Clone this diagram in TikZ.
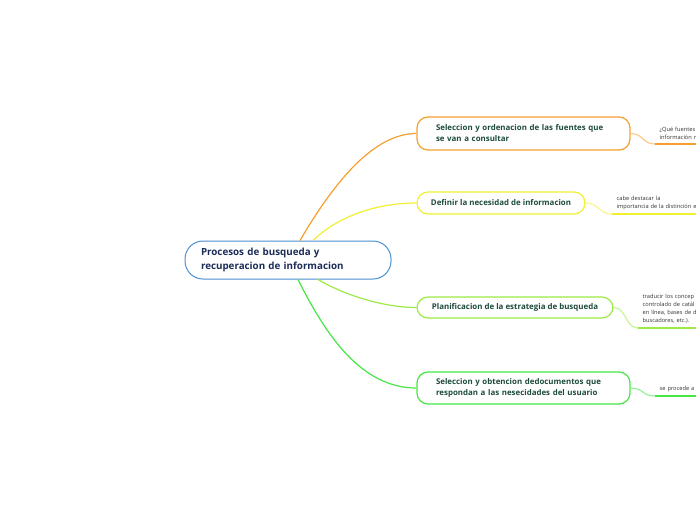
\documentclass[tikz,border=0pt]{standalone}
\usepackage{fontspec}
\setmainfont{Open Sans}
\usetikzlibrary{calc}
\usepackage{xcolor}
\definecolor{rootblue}{HTML}{4A90D2}
\definecolor{rootink}{HTML}{1B2C57}
\definecolor{topicink}{HTML}{1D4B3B}
\definecolor{orangeb}{HTML}{F5A02E}
\definecolor{yellowb}{HTML}{F0F032}
\definecolor{limeb}{HTML}{9BEA46}
\definecolor{greenb}{HTML}{45E645}
\tikzset{
    root/.style={rectangle, draw=rootblue, fill=white, rounded corners=18pt, minimum width=206pt, minimum height=38pt, text width=174pt, align=left, inner sep=0pt, font=\fontsize{9.8}{14}\selectfont\bfseries, text=rootink, line width=1pt},
    topic/.style={rectangle, draw=#1, fill=white, rounded corners=11pt, inner sep=0pt, font=\fontsize{7.9}{11}\selectfont\bfseries, text=topicink, line width=1.2pt},
    leaf/.style={anchor=south west, inner xsep=4.5pt, inner ysep=4pt, text width=90pt, align=left, font=\fontsize{5.7}{8.3}\selectfont, text=black!80},
    line/.style={draw=#1, line width=1.2pt},
    underline/.style={draw=#1, line width=1.8pt}
}

\begin{document}
\begin{tikzpicture}[x=1pt, y=-1pt]
    \useasboundingbox (0,0) rectangle (696,520);
    \clip (0,0) rectangle (696,520);

    \node [root] (root) at (288,260) {Procesos de busqueda y\\recuperacion de informacion};

    \node [topic=orangeb, minimum width=213pt, minimum height=33pt, text width=175pt, align=left] (fuentes) at (523.5,133.5) {Seleccion y ordenacion de las fuentes que\\se van a consultar};
    \node [topic=yellowb, minimum width=168pt, minimum height=22pt] (necesidad) at (501,203) {Definir la necesidad de informacion};
    \node [topic=limeb, minimum width=196pt, minimum height=21pt] (estrategia) at (515,307.5) {Planificacion de la estrategia de busqueda};
    \node [topic=greenb, minimum width=213pt, minimum height=32pt, text width=175pt, align=left] (obtencion) at (523.5,388) {Seleccion y obtencion dedocumentos que\\respondan a las nesecidades del usuario};

    \node [leaf] (qfuentes) at (655,144) {¿Qué fuentes\\información r};
    \node [leaf] (destacar) at (612,214) {cabe destacar la\\importancia de la distinción e};
    \node [leaf] (traducir) at (638,328) {traducir los concep\\controlado de catál\\en línea, bases de d\\buscadores, etc.).};
    \node [leaf] (procede) at (655,396) {se procede a};

    % ramas principales
    \path [line=orangeb] ($(root.north)+(12,0)$) .. controls ($(root.north)+(47,-60)$) and ($(fuentes.west)+(-42,0)$) .. (fuentes.west);
    \path [line=yellowb] ($(root.north)+(25,0)$) .. controls ($(root.north)+(52,-26)$) and ($(necesidad.west)+(-37,0)$) .. (necesidad.west);
    \path [line=limeb] ($(root.south)+(30,0)$) .. controls ($(root.south)+(57,16)$) and ($(estrategia.west)+(-32,0)$) .. (estrategia.west);
    \path [line=greenb] ($(root.south)+(10,0)$) .. controls ($(root.south)+(38,56)$) and ($(obtencion.west)+(-55,0)$) .. (obtencion.west);

    % ramas hacia las notas
    \path [line=orangeb!55] (fuentes.east) .. controls ($(fuentes.east)+(13,0)$) and ($(qfuentes.south west)+(-13,0)$) .. (qfuentes.south west);
    \path [line=yellowb!55] (necesidad.east) .. controls ($(necesidad.east)+(13,0)$) and ($(destacar.south west)+(-13,0)$) .. (destacar.south west);
    \path [line=limeb!55] (estrategia.east) .. controls ($(estrategia.east)+(13,0)$) and ($(traducir.south west)+(-13,0)$) .. (traducir.south west);
    \path [line=greenb!55] (obtencion.east) .. controls ($(obtencion.east)+(13,0)$) and ($(procede.south west)+(-13,0)$) .. (procede.south west);

    \path [underline=orangeb] (qfuentes.south west) -- (qfuentes.south east);
    \path [underline=yellowb] (destacar.south west) -- (destacar.south east);
    \path [underline=limeb] (traducir.south west) -- (traducir.south east);
    \path [underline=greenb] (procede.south west) -- (procede.south east);
\end{tikzpicture}
\end{document}
